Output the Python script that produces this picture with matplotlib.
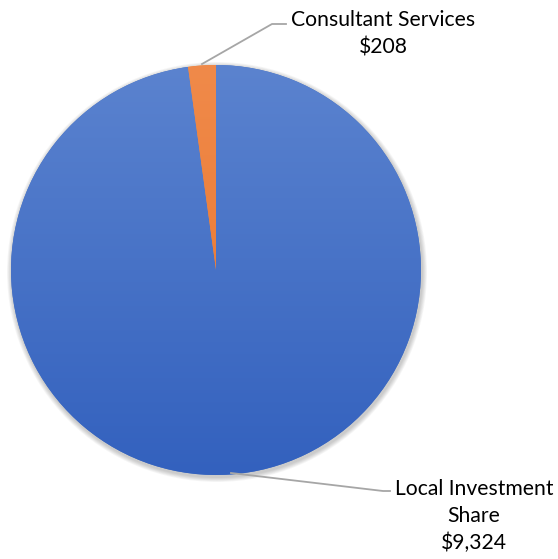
import numpy as np
import matplotlib
matplotlib.use("Agg")
import matplotlib.pyplot as plt
from matplotlib.colors import LinearSegmentedColormap
from matplotlib.patches import Circle

# Data
labels = ["Local Investment\nShare", "Consultant Services"]
values = [9324, 208]
value_text = ["$9,324", "$208"]

W, H = 558, 559
fig = plt.figure(figsize=(W / 100, H / 100), dpi=100)
ax = fig.add_axes([0, 0, 1, 1])

cx, cy, r = 216, H - 270, 205

# soft shadow
for i in range(6):
    ax.add_patch(Circle((cx + 1, cy - 2), r + 1 + i * 0.8, color="black",
                        alpha=0.035, lw=0, zorder=0))

wedges, _ = ax.pie(values, startangle=90, counterclock=False, center=(cx, cy),
                   radius=r, colors=["#4472C4", "#ED7D31"],
                   wedgeprops=dict(linewidth=0), frame=True)
ax.set_xlim(0, W)
ax.set_ylim(0, H)
ax.set_aspect("equal")
ax.axis("off")

# vertical gradient on the slices
grad = np.linspace(0, 1, 256).reshape(-1, 1)
cmap = LinearSegmentedColormap.from_list("bl", ["#3361BE", "#5B83CF"])
im = ax.imshow(grad, cmap=cmap, origin="lower", aspect="auto",
               extent=[cx - r, cx + r, cy - r, cy + r], zorder=2)
im.set_clip_path(wedges[0])

og = LinearSegmentedColormap.from_list("og", ["#E8732A", "#F08A4A"])
im2 = ax.imshow(grad, cmap=og, origin="lower", aspect="auto",
                extent=[cx - r, cx + r, cy - r, cy + r], zorder=2)
im2.set_clip_path(wedges[1])

font = "Lato"
fs = 15.2
line_col = "#A6A6A6"

# Consultant Services label
ax.plot([202, 272, 286], [H - 64, H - 24, H - 24], color=line_col, lw=1.3, zorder=3)
ax.text(383, H - 34, labels[1] + "\n" + value_text[1], ha="center", va="center",
        fontsize=fs, family=font, linespacing=1.45, zorder=4)

# Local Investment label
ax.plot([231, 383, 390], [H - 473, H - 491, H - 491], color=line_col, lw=1.3, zorder=3)
ax.text(474, H - 516, labels[0] + "\n" + value_text[0], ha="center", va="center",
        fontsize=fs, family=font, linespacing=1.45, zorder=4)

fig.savefig("out.png", dpi=100, facecolor="white")
